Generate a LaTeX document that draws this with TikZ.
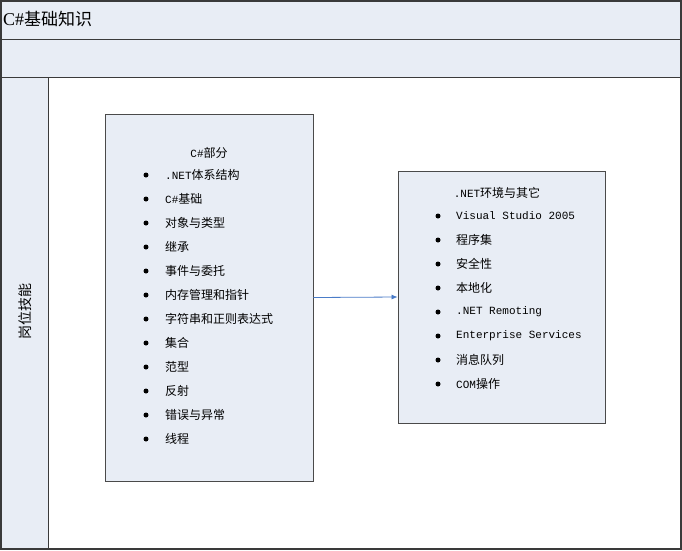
\documentclass[tikz,border=0pt]{standalone}
\usepackage{fontspec}
\setmainfont{Liberation Serif}
\newfontfamily\cjk{Noto Sans CJK SC}
\newfontfamily\mono{Liberation Mono}
\definecolor{bandfill}{HTML}{E8EDF5}
\definecolor{framec}{HTML}{3A3A3A}
\definecolor{boxline}{HTML}{4A4A4A}
\definecolor{arrowc}{HTML}{4A7CC8}
\tikzset{
  band/.style={draw=framec, line width=1pt, fill=bandfill, anchor=north west, inner sep=0pt},
  listbox/.style={draw=boxline, line width=0.9pt, fill=bandfill, inner sep=0pt},
  item/.style={anchor=west, inner sep=0pt, font=\fontsize{12}{14}\selectfont},
  head/.style={inner sep=0pt, font=\fontsize{12}{14}\selectfont},
  conn/.style={draw=arrowc, line width=0.8pt, -{Latex[length=6pt,width=5pt]}}
}
\usetikzlibrary{arrows.meta}
\newcommand{\bul}[2]{\fill (#1,#2) circle (2.5);}
\begin{document}
\begin{tikzpicture}[x=1pt,y=-1pt]
\useasboundingbox (0,0) rectangle (682,550);
\fill[white] (0,0) rectangle (682,550);
% bands
\node[band, minimum width=680pt, minimum height=38pt] (title) at (1,1) {};
\node[band, minimum width=680pt, minimum height=38pt] (band2) at (1,39) {};
\node[band, minimum width=47pt, minimum height=472pt] (lane) at (1,77) {};
\node[draw=framec, line width=1pt, fill=white, anchor=north west, inner sep=0pt, minimum width=633pt, minimum height=472pt] (pool) at (48,77) {};
\draw[framec, line width=1.5pt] (1,1) rectangle (681,549);
\node[anchor=west, inner sep=0pt, font=\fontsize{18}{20}\selectfont] (titletext) at (3,19) {C\#{\cjk\fontsize{17}{20}\selectfont 基础知识}};
\node[rotate=90, inner sep=0pt, font=\cjk\fontsize{14}{16}\selectfont] (lanetext) at (25,311) {岗位技能};
% boxes
\node[listbox, minimum width=208pt, minimum height=367pt] (left) at (209,297.5) {};
\node[listbox, minimum width=207pt, minimum height=252pt] (right) at (501.5,297) {};
\draw[conn] (left.east) -- (right.west);
% left content
\node[head] (lh) at (209,153) {{\mono\fontsize{11}{13}\selectfont C\#}{\cjk 部分}};
\foreach \y/\t [count=\i] in {
 175/{{\mono\fontsize{11}{13}\selectfont .NET}{\cjk 体系结构}},
 199/{{\mono\fontsize{11}{13}\selectfont C\#}{\cjk 基础}},
 223/{{\cjk 对象与类型}},
 247/{{\cjk 继承}},
 271/{{\cjk 事件与委托}},
 295/{{\cjk 内存管理和指针}},
 319/{{\cjk 字符串和正则表达式}},
 343/{{\cjk 集合}},
 367/{{\cjk 范型}},
 391/{{\cjk 反射}},
 415/{{\cjk 错误与异常}},
 439/{{\cjk 线程}}}{
  \bul{146}{\y}
  \node[item] (l\i) at (165,\y) {\t};
}
% right content
\node[head] (rh) at (497,193) {{\mono\fontsize{11}{13}\selectfont .NET}{\cjk 环境与其它}};
\foreach \y/\t [count=\i] in {
 216/{{\mono\fontsize{11}{13}\selectfont Visual Studio 2005}},
 240/{{\cjk 程序集}},
 264/{{\cjk 安全性}},
 288/{{\cjk 本地化}},
 312/{{\mono\fontsize{11}{13}\selectfont .NET Remoting}},
 336/{{\mono\fontsize{11}{13}\selectfont Enterprise Services}},
 360/{{\cjk 消息队列}},
 384/{{\mono\fontsize{11}{13}\selectfont COM}{\cjk 操作}}}{
  \bul{438}{\y}
  \node[item] (r\i) at (456,\y) {\t};
}
\end{tikzpicture}
\end{document}
